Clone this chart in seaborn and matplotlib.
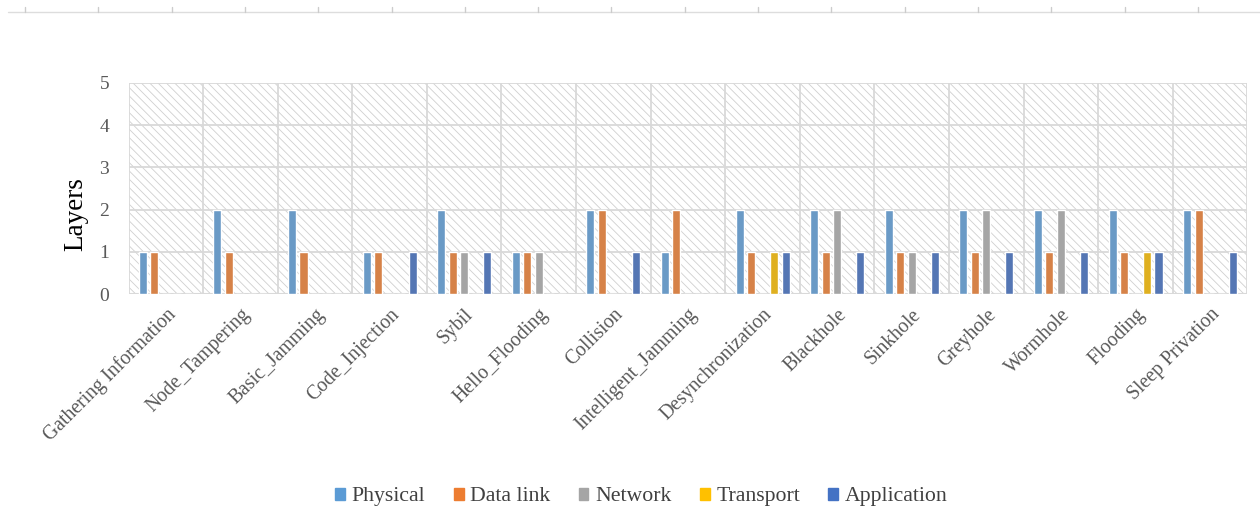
import pandas as pd
import matplotlib.pyplot as plt
import matplotlib.patches as mpatches
from matplotlib.lines import Line2D
import seaborn as sns

# attack names and the layers each one touches
attacks = ['Gathering Information', 'Node_Tampering', 'Basic_Jamming',
  'Code_Injection', 'Sybil', 'Hello_Flooding', 'Collision',
  'Intelligent_Jamming', 'Desynchronization', 'Blackhole', 'Sinkhole',
  'Greyhole', 'Wormhole', 'Flooding', 'Sleep Privation']
layers = ['Physical', 'Data link', 'Network', 'Transport', 'Application']

physical    = [1, 2, 2, 1, 2, 1, 2, 1, 2, 2, 2, 2, 2, 2, 2]
data_link   = [1, 1, 1, 1, 1, 1, 2, 2, 1, 1, 1, 1, 1, 1, 2]
network     = [0, 0, 0, 0, 1, 1, 0, 0, 0, 2, 1, 2, 2, 0, 0]
transport   = [0, 0, 0, 0, 0, 0, 0, 0, 1, 0, 0, 0, 0, 1, 0]
application = [0, 0, 0, 1, 1, 0, 1, 0, 1, 1, 1, 1, 1, 1, 1]

colors = ['#5B9BD5', '#ED7D31', '#A5A5A5', '#FFC000', '#4472C4']

df = pd.DataFrame({'attack': attacks, 'Physical': physical,
  'Data link': data_link, 'Network': network,
  'Transport': transport, 'Application': application})
long = df.melt(id_vars='attack', var_name='layer', value_name='count')

sns.set_style('white')
plt.rcParams['font.family'] = ['Liberation Serif', 'DejaVu Serif']
plt.rcParams['hatch.linewidth'] = 0.6

fig = plt.figure(figsize=(12.6, 5.27), dpi=100)
ax = fig.add_axes([0.102, 0.442, 0.888, 0.401])

# hatched plot background like the excel chart
ax.add_patch(mpatches.Rectangle((0, 0), 1, 1, transform=ax.transAxes,
  facecolor='white', edgecolor='#cfcfcf', hatch='\\\\\\\\', lw=0, zorder=0))

sns.barplot(data=long, x='attack', y='count', hue='layer', hue_order=layers,
  palette=dict(zip(layers, colors)), width=0.77, gap=0.3, ax=ax,
  legend=False, zorder=3)

ax.set_ylim(0, 5)
ax.set_xlim(-0.5, len(attacks) - 0.5)
ax.set_yticks(range(6))
for y in range(1, 6):
    ax.axhline(y, color='#d9d9d9', lw=1.3, zorder=1)
for x in range(len(attacks) + 1):
    ax.axvline(x - 0.5, color='#d9d9d9', lw=1.3, zorder=1)
for s in ax.spines.values():
    s.set_visible(False)
ax.axhline(0, color='#d9d9d9', lw=1.5, zorder=2)

ax.tick_params(axis='y', length=0, colors='#595959', labelsize=14, pad=14)
ax.tick_params(axis='x', length=0, colors='#595959', labelsize=14.2, pad=8)
ax.set_xticks(range(len(attacks)))
ax.set_xticklabels(attacks, rotation=45, ha='right', rotation_mode='anchor')
ax.set_xlabel('')
ax.set_ylabel('Layers', fontsize=19.5, color='black')
ax.yaxis.set_label_coords(-0.036, 0.38)

handles = [mpatches.Patch(color=c, label=l) for c, l in zip(colors, layers)]
fig.legend(handles=handles, loc='center', bbox_to_anchor=(0.509, 0.057),
  ncol=5, frameon=False, fontsize=15.7, handlelength=0.45, handleheight=0.45,
  handletextpad=0.3, columnspacing=1.3, labelcolor='#404040')

# faint ruler line along the top of the page
fig.add_artist(Line2D([0.006, 1], [0.977, 0.977], color='#dddddd', lw=1))
for i in range(18):
    xt = (25 + i * 73.3) / 1260
    fig.add_artist(Line2D([xt, xt], [0.977, 0.987], color='#cccccc', lw=1))

fig.savefig('out.png', dpi=100)
